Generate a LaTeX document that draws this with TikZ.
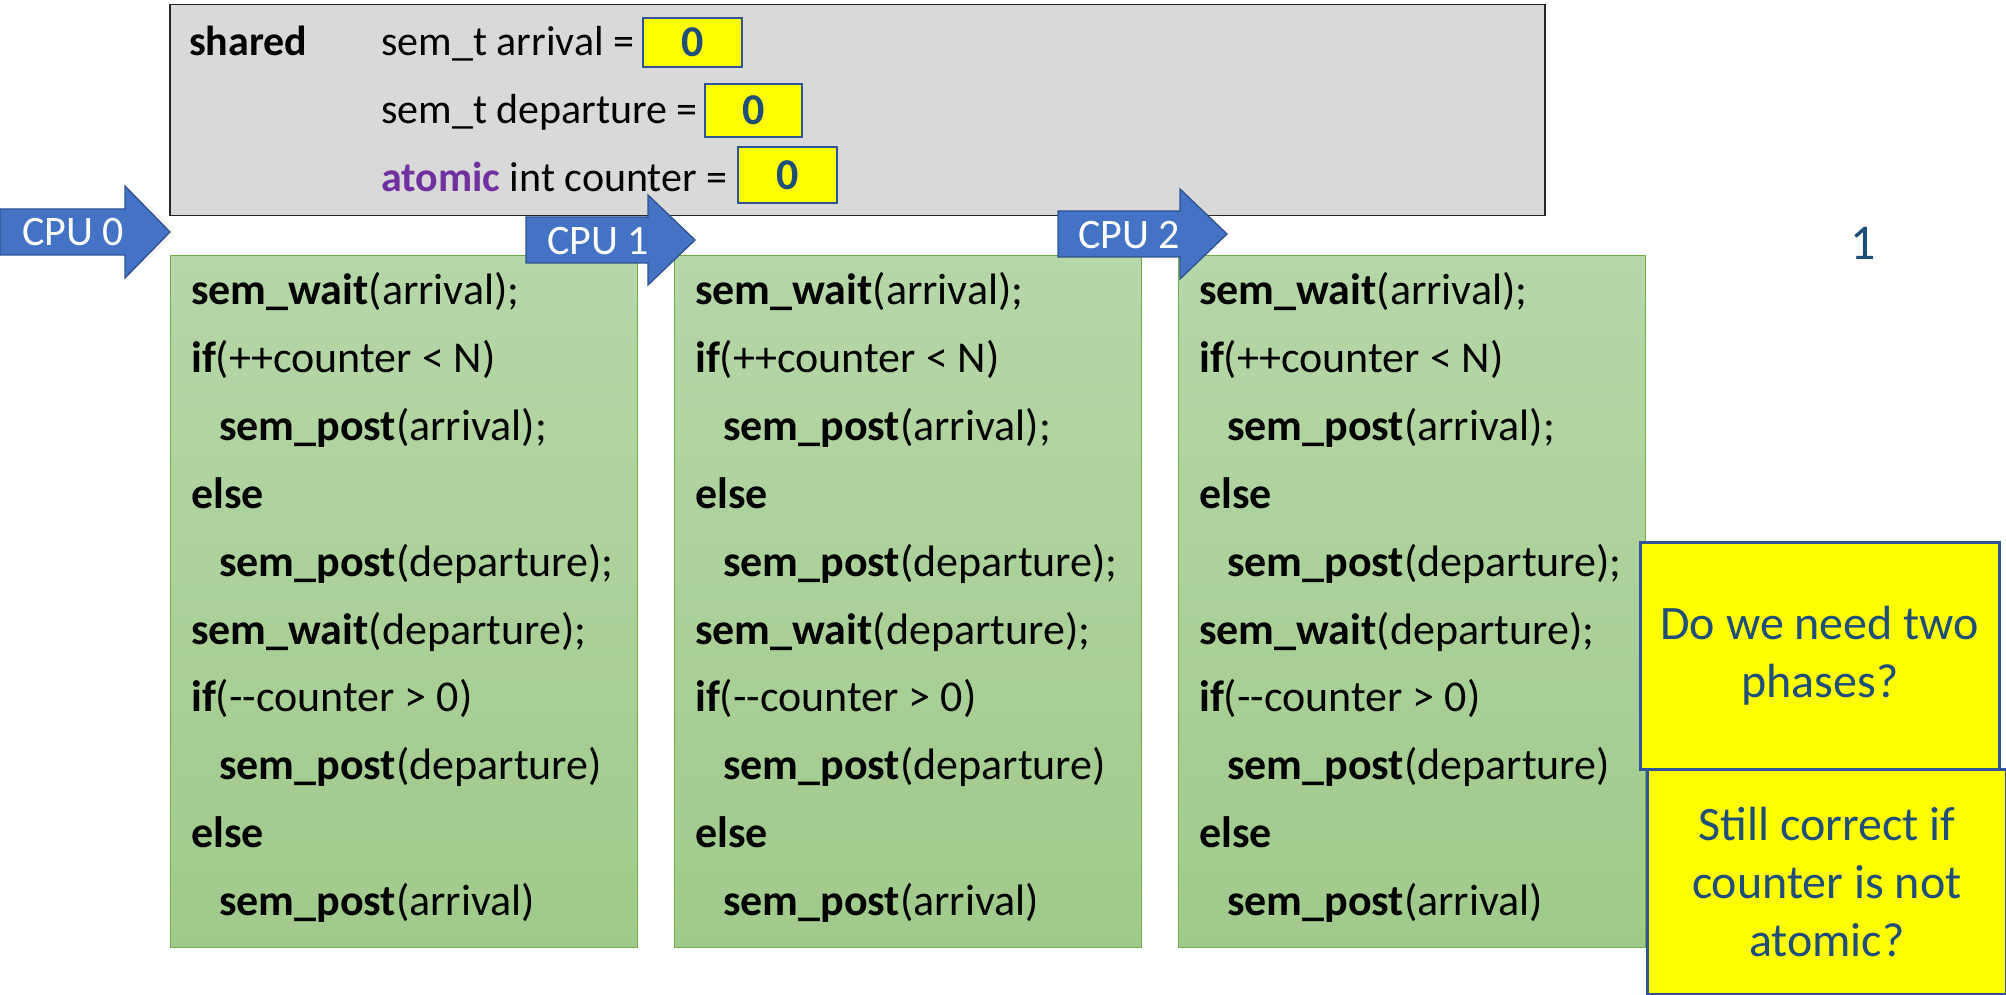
\documentclass[tikz,border=0pt]{standalone}
\usepackage{fontspec}
\setmainfont{Carlito}
\definecolor{sharedgray}{RGB}{217,217,217}
\definecolor{yel}{RGB}{255,255,0}
\definecolor{ybord}{RGB}{47,85,151}
\definecolor{dblue}{RGB}{31,78,121}
\definecolor{arrfill}{RGB}{68,114,196}
\definecolor{arrbord}{RGB}{47,82,143}
\definecolor{purp}{RGB}{112,48,160}
\definecolor{gtop}{RGB}{182,215,168}
\definecolor{gbot}{RGB}{160,202,139}
\definecolor{gbord}{RGB}{112,173,71}
\begin{document}
\begin{tikzpicture}[x=1pt,y=-1pt,
  sharedbox/.style={draw=black!85, line width=1.5pt, fill=sharedgray, anchor=north west, inner sep=0pt},
  greenbox/.style={draw=gbord, line width=1.3pt, top color=gtop, bottom color=gbot, anchor=north west, inner sep=0pt},
  valbox/.style={draw=ybord, line width=2.5pt, fill=yel, inner sep=0pt, text=dblue, font=\fontsize{44}{50}\selectfont\bfseries},
  qbox/.style={draw=ybord, line width=2.5pt, fill=yel, anchor=north west, inner sep=0pt, text=dblue, align=center, font=\fontsize{48}{58}\selectfont},
  cpuarrow/.style={fill=arrfill, draw=arrbord, line width=1.3pt, line join=miter},
  cpulabel/.style={text=white, inner sep=0pt, font=\fontsize{42}{48}\selectfont},
  codetxt/.style={anchor=base west, inner sep=0pt, font=\fontsize{44}{54}\selectfont},
  sharedtxt/.style={anchor=base west, inner sep=0pt, font=\fontsize{42}{50}\selectfont}]
\useasboundingbox (0,0) rectangle (2006,995);

% shared box
\node[sharedbox, minimum width=1375pt, minimum height=211pt] (shared) at (169,4) {};
\node[sharedtxt] (sh) at (189,56) {\bfseries shared};
\node[sharedtxt] (sa) at (381,56) {sem\_t arrival =};
\node[sharedtxt] (sd) at (381,124) {sem\_t departure =};
\node[sharedtxt] (sc) at (381,192) {{\bfseries\color{purp}atomic} int counter =};
\node[valbox, minimum width=99pt, minimum height=49pt] (v0) at (692.5,42.5) {0};
\node[valbox, minimum width=97pt, minimum height=53pt] (v1) at (753.5,110.5) {0};
\node[valbox, minimum width=99pt, minimum height=56pt] (v2) at (787.5,175) {0};

% green code boxes
\foreach \b/\x in {0/170,1/674,2/1178}{
  \node[greenbox, minimum width=467pt, minimum height=692pt] (g\b) at (\x,255) {};
  \pgfmathsetmacro{\xa}{\x+21}
  \pgfmathsetmacro{\xb}{\x+49}
  \node[codetxt] (c\b-1) at (\xa,305) {\textbf{sem\_wait}(arrival);};
  \node[codetxt] (c\b-2) at (\xa,372.8) {\textbf{if}(++counter < N)};
  \node[codetxt] (c\b-3) at (\xb,440.6) {\textbf{sem\_post}(arrival);};
  \node[codetxt] (c\b-4) at (\xa,508.4) {\textbf{else}};
  \node[codetxt] (c\b-5) at (\xb,576.2) {\textbf{sem\_post}(departure);};
  \node[codetxt] (c\b-6) at (\xa,644) {\textbf{sem\_wait}(departure);};
  \node[codetxt] (c\b-7) at (\xa,711.8) {\textbf{if}(-{}-counter > 0)};
  \node[codetxt] (c\b-8) at (\xb,779.6) {\textbf{sem\_post}(departure)};
  \node[codetxt] (c\b-9) at (\xa,847.4) {\textbf{else}};
  \node[codetxt] (c\b-10) at (\xb,915.2) {\textbf{sem\_post}(arrival)};
}

% CPU arrows
\draw[cpuarrow] (0,209) -- (125,209) -- (125,186) -- (170,232) -- (125,278) -- (125,255) -- (0,255) -- cycle;
\node[cpulabel] (cpu0) at (73,232) {CPU 0};
\draw[cpuarrow] (526,217) -- (648,217) -- (648,195) -- (695,240) -- (648,285) -- (648,263) -- (526,263) -- cycle;
\node[cpulabel] (cpu1) at (598,241) {CPU 1};
\draw[cpuarrow] (1058,211) -- (1180,211) -- (1180,189) -- (1227,234) -- (1180,279) -- (1180,257) -- (1058,257) -- cycle;
\node[cpulabel] (cpu2) at (1129,235) {CPU 2};

% number
\node[text=dblue, inner sep=0pt, font=\fontsize{50}{58}\selectfont] (num) at (1863,243) {1};

% question boxes
\node[qbox, minimum width=359pt, minimum height=227pt] (q1) at (1639,541) {Do we need two\\phases?};
\node[qbox, minimum width=359pt, minimum height=225pt] (q2) at (1646,768) {Still correct if\\counter is not\\atomic?};
\end{tikzpicture}
\end{document}
